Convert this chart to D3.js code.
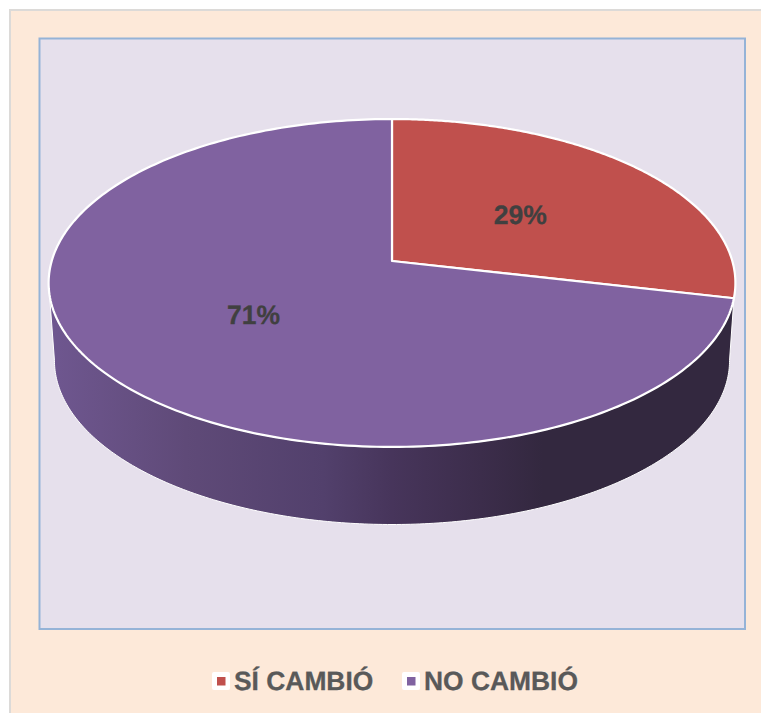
<!DOCTYPE html>
<html>
<head>
<meta charset="utf-8">
<script src="https://cdn.jsdelivr.net/npm/d3@7/dist/d3.min.js"></script>
<style>
html,body{margin:0;padding:0;background:#fff;overflow:hidden}
svg{display:block}
text{font-family:"Liberation Sans",Arial,sans-serif;font-weight:700;text-rendering:geometricPrecision}
</style>
</head>
<body>
<svg id="chart" width="761" height="713"></svg>
<script>
const categories = ["SÍ CAMBIÓ", "NO CAMBIÓ"];
const values = [28.6, 71.4];
const colors = ["#c0504d", "#8062a0"];

const svg = d3.select("#chart");
const W = 761, H = 713;

// Background panel and plot area
svg.append("rect").attr("width", W).attr("height", H).attr("fill", "#ffffff");
svg.append("rect").attr("x", 10).attr("y", 10).attr("width", W + 10).attr("height", H + 10)
  .attr("fill", "#fde9d9").attr("stroke", "#dcdad8").attr("stroke-width", 2);
svg.append("rect").attr("x", 39.5).attr("y", 38.5).attr("width", 705.5).attr("height", 590.5)
  .attr("fill", "#e6e0ec").attr("stroke", "#95b3d7").attr("stroke-width", 2);

// Perspective projection of the unit disc to the screen
const K = -0.134;
function projector(cx, cy, a, b) {
  return (rho, angle) => {
    const u = rho * Math.sin(angle), v = -rho * Math.cos(angle);
    const w = 1 + K * v;
    return [cx + a * u / w, cy + b * v / w];
  };
}
const topFace = projector(392, 261, 340.3, 161);
const bottomFace = projector(392, 338.6, 334.5, 161);

const pie = d3.pie().sort(null).value(d => d);
const arcs = pie(values);
const line = d3.line();

function arcPoints(proj, a0, a1) {
  const n = 240;
  return d3.range(n + 1).map(i => proj(1, a0 + (a1 - a0) * i / n));
}

// Side wall
const defs = svg.append("defs");
const grad = defs.append("linearGradient").attr("id", "wall")
  .attr("gradientUnits", "userSpaceOnUse")
  .attr("x1", 49).attr("x2", 735).attr("y1", 0).attr("y2", 0);
[[0, "#6f5790"], [0.2, "#5f4a78"], [0.4, "#52406c"], [0.5, "#47355b"], [0.63, "#3c2d4b"], [0.72, "#33283f"], [1, "#33283f"]]
  .forEach(s => grad.append("stop").attr("offset", s[0]).attr("stop-color", s[1]));

const leftLimit = 2 * Math.PI - Math.acos(K);
const rightLimit = Math.acos(K);
const boundary = arcs[0].endAngle;
const wallPts = arcPoints(bottomFace, rightLimit, leftLimit)
  .concat(arcPoints(topFace, leftLimit, boundary));
svg.append("path").attr("d", line(wallPts) + "Z")
  .attr("fill", "url(#wall)").attr("stroke", "#ffffff").attr("stroke-width", 1).attr("stroke-linejoin", "round");

// Top face slices
svg.selectAll("path.slice").data(arcs).enter().append("path")
  .attr("class", "slice")
  .attr("d", d => line([topFace(0, 0)].concat(arcPoints(topFace, d.startAngle, d.endAngle))) + "Z")
  .attr("fill", (d, i) => colors[i])
  .attr("stroke", "#ffffff").attr("stroke-width", 2.2).attr("stroke-linejoin", "round");

// Percent labels
const total = d3.sum(values);
svg.selectAll("text.pct").data(arcs).enter().append("text")
  .attr("class", "pct")
  .attr("x", d => topFace(0.5, (d.startAngle + d.endAngle) / 2)[0] + 0.5)
  .attr("y", d => topFace(0.5, (d.startAngle + d.endAngle) / 2)[1] + 11)
  .attr("text-anchor", "middle")
  .attr("font-size", 26.5)
  .attr("fill", "#404040").attr("stroke", "#404040").attr("stroke-width", 0.3)
  .text(d => d3.format(".0f")(d.value / total * 100) + "%");

// Legend
const legendX = d3.scaleOrdinal().domain(categories).range([212, 402]);
const legend = svg.selectAll("g.leg").data(categories).enter().append("g")
  .attr("class", "leg").attr("transform", d => `translate(${legendX(d)},672)`);
legend.append("rect").attr("width", 18).attr("height", 18).attr("rx", 2).attr("fill", "#ffffff");
legend.append("rect").attr("x", 5).attr("y", 5).attr("width", 8.5).attr("height", 8.5)
  .attr("fill", (d, i) => colors[i]);
legend.append("text").attr("x", 22).attr("y", 18)
  .attr("font-size", 26.4).attr("fill", "#595959").attr("stroke", "#595959").attr("stroke-width", 0.3).text(d => d);
</script>
</body>
</html>
